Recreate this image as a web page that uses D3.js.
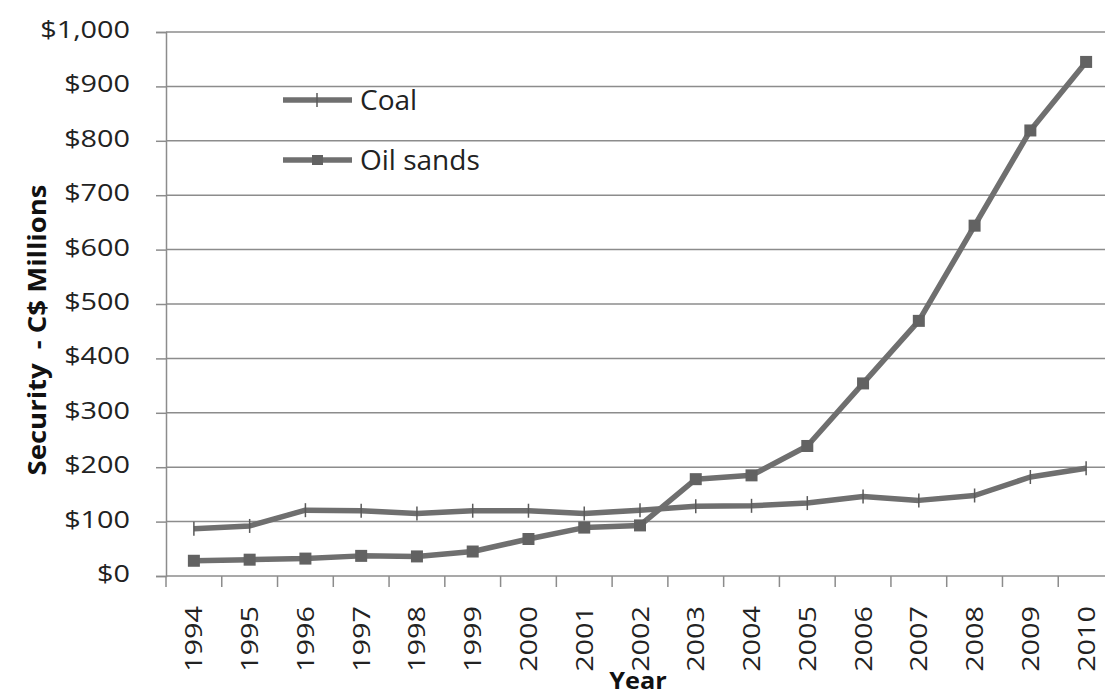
<!DOCTYPE html>
<html>
<head>
<meta charset="utf-8">
<script src="https://cdn.jsdelivr.net/npm/d3@7"></script>
<style>
  html, body { margin: 0; padding: 0; background: #fff; }
  svg { display: block; }
</style>
</head>
<body>
<svg id="chart" width="1105" height="697"></svg>
<script>
// Reclamation security held, C$ millions
const years = ["1994","1995","1996","1997","1998","1999","2000","2001","2002",
               "2003","2004","2005","2006","2007","2008","2009","2010"];
const coal     = [87, 92, 121, 120, 115, 120, 120, 115, 121, 128, 129, 134, 146, 139, 148, 182, 198];
const oilSands = [28, 30, 32, 37, 36, 45, 68, 89, 93, 178, 185, 239, 354, 469, 644, 819, 945];
const yTicks   = [0, 100, 200, 300, 400, 500, 600, 700, 800, 900, 1000];
const seriesNames = ["Coal", "Oil sands"];

const svg = d3.select("#chart");
const plotLeft = 166, plotRight = 1114, plotTop = 32, plotBottom = 576;
const lineColor = "#6f6f6f";
const gridColor = "#8c8c8c";
const font = "'Open Sans', 'DejaVu Sans', sans-serif";
const stretch = 1.2;

const x = d3.scaleBand().domain(years).range([plotLeft, plotRight]).padding(0);
const y = d3.scaleLinear().domain([0, 1000]).range([plotBottom, plotTop]);

// horizontal gridlines
svg.append("g")
  .selectAll("line")
  .data(yTicks.filter(d => d > 0))
  .join("line")
  .attr("x1", plotLeft).attr("x2", plotRight)
  .attr("y1", d => y(d)).attr("y2", d => y(d))
  .attr("stroke", gridColor).attr("stroke-width", 1.5);

// y axis
const yAxis = svg.append("g")
  .attr("transform", `translate(${plotLeft},0)`)
  .call(d3.axisLeft(y).tickValues(yTicks).tickSize(10).tickFormat(() => ""));
yAxis.select(".domain").attr("stroke", gridColor).attr("stroke-width", 1.5);
yAxis.selectAll(".tick line").attr("stroke", gridColor).attr("stroke-width", 1.5);

const yFmt = d3.format("$,");
svg.append("g").selectAll("text")
  .data(yTicks)
  .join("text")
  .attr("transform", d => `translate(130,${y(d) + 6}) scale(${stretch},1)`)
  .attr("text-anchor", "end")
  .attr("font-family", font).attr("font-size", 24).attr("fill", "#222")
  .text(d => yFmt(d));

// x axis: ticks at category boundaries
svg.append("line")
  .attr("x1", plotLeft).attr("x2", plotRight)
  .attr("y1", plotBottom).attr("y2", plotBottom)
  .attr("stroke", gridColor).attr("stroke-width", 1.5);
svg.append("g").selectAll("line")
  .data(years)
  .join("line")
  .attr("x1", d => x(d) + x.bandwidth()).attr("x2", d => x(d) + x.bandwidth())
  .attr("y1", plotBottom).attr("y2", plotBottom + 11)
  .attr("stroke", gridColor).attr("stroke-width", 1.5);
svg.append("line")
  .attr("x1", plotLeft).attr("x2", plotLeft)
  .attr("y1", plotBottom).attr("y2", plotBottom + 11)
  .attr("stroke", gridColor).attr("stroke-width", 1.5);

svg.append("g").selectAll("text")
  .data(years)
  .join("text")
  .attr("transform", d => `translate(${x(d) + x.bandwidth() / 2 + 8.5},606) rotate(-90) scale(${stretch},1)`)
  .attr("text-anchor", "end")
  .attr("font-family", font).attr("font-size", 24).attr("fill", "#222")
  .text(d => d);

// axis titles
svg.append("text")
  .attr("transform", `translate(${(plotLeft + plotRight) / 2 - 2},689) scale(1.1,1)`)
  .attr("text-anchor", "middle")
  .attr("font-family", font).attr("font-size", 23).attr("font-weight", "bold").attr("fill", "#111")
  .text("Year");

svg.append("text")
  .attr("transform", `translate(46,330) rotate(-90) scale(1.1,1)`)
  .attr("text-anchor", "middle")
  .attr("font-family", font).attr("font-size", 25).attr("font-weight", "bold").attr("fill", "#111")
  .attr("xml:space", "preserve")
  .text("Security  - C$ Millions");

// series lines
const line = d3.line().x((d, i) => x(years[i]) + x.bandwidth() / 2).y(d => y(d));

svg.append("path").datum(coal)
  .attr("d", line).attr("fill", "none")
  .attr("stroke", lineColor).attr("stroke-width", 5.5).attr("stroke-linejoin", "round");
svg.append("g").selectAll("line")
  .data(coal)
  .join("line")
  .attr("x1", (d, i) => x(years[i]) + x.bandwidth() / 2)
  .attr("x2", (d, i) => x(years[i]) + x.bandwidth() / 2)
  .attr("y1", d => y(d) - 7).attr("y2", d => y(d) + 7)
  .attr("stroke", "#5a5a5a").attr("stroke-width", 1.5);

svg.append("path").datum(oilSands)
  .attr("d", line).attr("fill", "none")
  .attr("stroke", lineColor).attr("stroke-width", 5.5).attr("stroke-linejoin", "round");
svg.append("g").selectAll("rect")
  .data(oilSands)
  .join("rect")
  .attr("x", (d, i) => x(years[i]) + x.bandwidth() / 2 - 6)
  .attr("y", d => y(d) - 6)
  .attr("width", 12).attr("height", 12)
  .attr("fill", "#626262");

// legend
const legend = svg.append("g");
const legendRows = [{ name: seriesNames[0], cy: 100 }, { name: seriesNames[1], cy: 160 }];
legendRows.forEach((r, i) => {
  legend.append("line")
    .attr("x1", 283).attr("x2", 352).attr("y1", r.cy).attr("y2", r.cy)
    .attr("stroke", lineColor).attr("stroke-width", 5.5);
  if (i === 0) {
    legend.append("line")
      .attr("x1", 317).attr("x2", 317).attr("y1", r.cy - 7).attr("y2", r.cy + 7)
      .attr("stroke", "#5a5a5a").attr("stroke-width", 1.5);
  } else {
    legend.append("rect")
      .attr("x", 312).attr("y", r.cy - 5).attr("width", 11).attr("height", 10)
      .attr("fill", "#626262");
  }
  legend.append("text")
    .attr("x", 360).attr("y", r.cy + 10)
    .attr("font-family", font).attr("font-size", 28).attr("fill", "#222")
    .text(r.name);
});
</script>
</body>
</html>
